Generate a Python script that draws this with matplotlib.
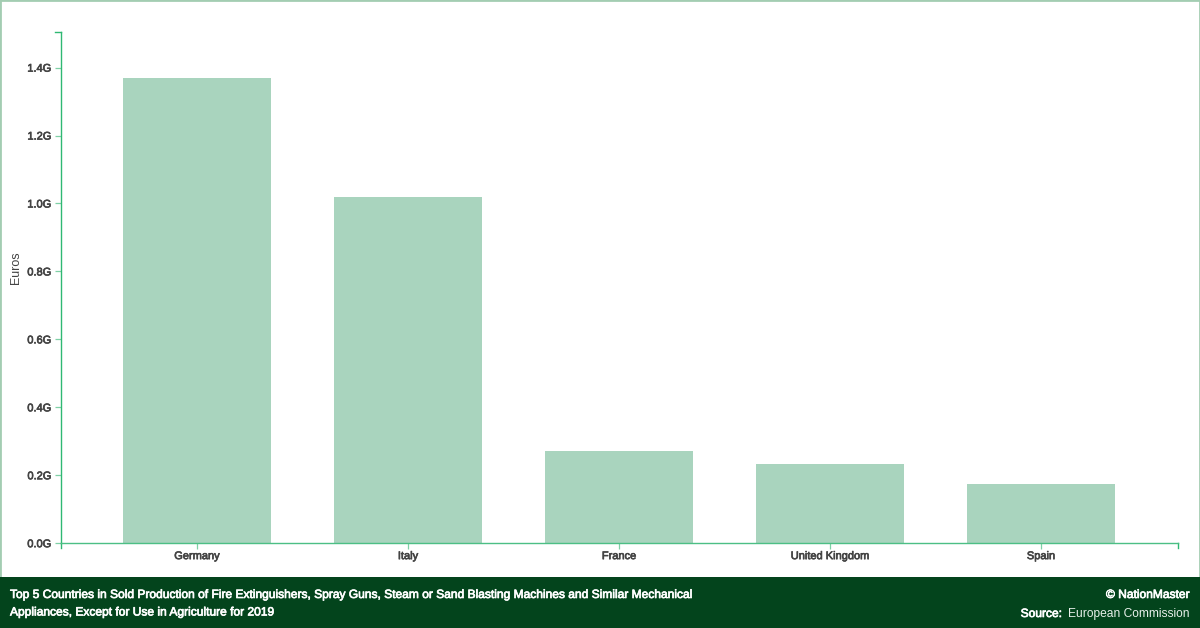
import matplotlib
matplotlib.use("Agg")
import matplotlib.pyplot as plt
from matplotlib.patches import Rectangle
import matplotlib.patheffects as pe

countries = ["Germany", "Italy", "France", "United Kingdom", "Spain"]
values = [1.368, 1.019, 0.272, 0.232, 0.1735]
y_ticks = [0.0, 0.2, 0.4, 0.6, 0.8, 1.0, 1.2, 1.4]
y_labels = ["0.0G", "0.2G", "0.4G", "0.6G", "0.8G", "1.0G", "1.2G", "1.4G"]
title_lines = ["Top 5 Countries in Sold Production of Fire Extinguishers, Spray Guns, Steam or Sand Blasting Machines and Similar Mechanical",
               "Appliances, Except for Use in Agriculture for 2019"]

W, H = 1200, 628
plt.rcParams['font.family'] = ['Liberation Sans', 'DejaVu Sans']
fig = plt.figure(figsize=(W/100, H/100), dpi=100, facecolor="white")
GREEN = "#2fb873"
TXT = "#444444"
FS = 8.64
TICK_FS = 7.95

def faux(color):
    return [pe.withStroke(linewidth=0.5, foreground=color)]

# frame and footer
fig.add_artist(Rectangle((0, 0), 1, 1, transform=fig.transFigure, fill=False, ec="#a3cdb2", lw=2))
fig.add_artist(Rectangle((0, 0), 1, 51/H, transform=fig.transFigure, fc="#03441c", ec="none"))

x0, x1, yb, yt = 60.5, 1178, 543.2, 32.5
ax = fig.add_axes([x0/W, 1-yb/H, (x1-x0)/W, (yb-yt)/H])
ax.patch.set_alpha(0)
ax.set_xlim((x0-197)/211, (x1-197)/211)
ax.set_ylim(0, (yb-yt)/339.7)
ax.bar(range(len(values)), values, width=148/211, color="#a9d4be", zorder=1)

for s in ("top", "right"):
    ax.spines[s].set_visible(False)
for s in ("left", "bottom"):
    ax.spines[s].set_color(GREEN)
    ax.spines[s].set_linewidth(1.0)
    ax.spines[s].set_zorder(3)
ax.spines["bottom"].set_color("#4cbf85")

ax.set_xticks(range(len(countries)), countries, fontsize=TICK_FS, color=TXT)
ax.set_yticks(y_ticks, y_labels, fontsize=TICK_FS, color=TXT)
for lab in ax.get_xticklabels() + ax.get_yticklabels():
    lab.set_path_effects(faux(TXT))
ax.tick_params(axis="x", length=4.2, width=0.9, color="#7fd0a6", pad=1.5)
ax.tick_params(axis="y", length=4.2, width=0.9, color="#7fd0a6", pad=2.5)
ax.set_ylabel("Euros", fontsize=9, color=TXT, va="center")
ax.yaxis.set_label_coords((15.5-x0)/(x1-x0), (yb-268)/(yb-yt))

# axis end caps (d3 outer ticks)
ax.plot([0, 0], [0, -5/(yb-yt)], transform=ax.transAxes, color=GREEN, lw=1.0, clip_on=False)
ax.plot([1, 1], [0, -5/(yb-yt)], transform=ax.transAxes, color=GREEN, lw=1.0, clip_on=False)
ax.plot([0, -6/(x1-x0)], [1, 1], transform=ax.transAxes, color=GREEN, lw=1.0, clip_on=False)

# footer text
for line, py in zip(title_lines, (595, 612.5)):
    fig.text(10/W, 1-py/H, line, color="white", fontsize=FS, va="center", ha="left", path_effects=faux("white"))
fig.text(1190/W, 1-595/H, "© NationMaster", color="white", fontsize=FS, va="center", ha="right", path_effects=faux("white"))
fig.text(1190/W, 1-614/H, "European Commission", color="#e8f0ea", fontsize=FS, va="center", ha="right")
fig.text(1062/W, 1-614/H, "Source:", color="white", fontsize=FS, va="center", ha="right", path_effects=faux("white"))

fig.savefig("out.png", dpi=100)
